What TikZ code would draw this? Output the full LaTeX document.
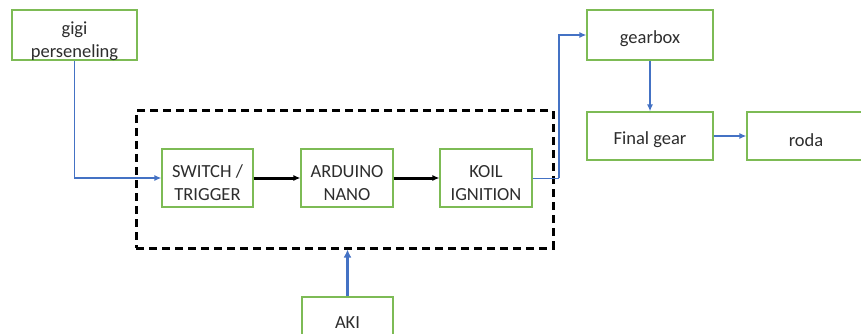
\documentclass[tikz,border=0pt]{standalone}
\usepackage{fontspec}
\setmainfont{Carlito}
\usetikzlibrary{arrows.meta}
\definecolor{boxgreen}{RGB}{125,187,85}
\definecolor{lineblue}{RGB}{68,114,196}
\definecolor{txtgray}{RGB}{45,45,45}
\tikzset{
  blk/.style={draw=boxgreen, line width=1.2pt, fill=white, minimum width=#1, inner sep=0pt},
  blk/.default=91pt,
  txt/.style={font=\fontsize{18.5}{23}\selectfont, text=txtgray, align=center, inner sep=0pt},
  bluearr/.style={draw=lineblue, line width=1.6pt, -{Latex[length=7pt,width=6pt]}},
  blackarr/.style={draw=black, line width=3pt, -{Latex[length=7pt,width=6pt]}},
  ctrlbox/.style={draw=black, line width=3pt, dash pattern=on 8pt off 5pt, minimum width=417pt, minimum height=137pt, inner sep=0pt}
}
\begin{document}
\begin{tikzpicture}[x=1pt,y=-1pt]
\useasboundingbox (0,0) rectangle (861,334);
\clip (0,0) rectangle (861,334);
\node[ctrlbox] (ctrl) at (344.5,179.5) {};
\node[blk=125pt, minimum height=50pt, label={[txt, yshift=-6pt]center:gigi\\perseneling}] (gigi) at (74.5,35) {};
\node[blk, minimum height=58pt, label={[txt, yshift=-5pt]center:SWITCH /\\TRIGGER}] (sw) at (207.5,178) {};
\node[blk=92pt, minimum height=58pt, label={[txt, yshift=-5pt]center:ARDUINO\\NANO}] (ard) at (347,178) {};
\node[blk=92pt, minimum height=58pt, label={[txt, yshift=-5pt]center:KOIL\\IGNITION}] (koil) at (486,178) {};
\node[blk=126pt, minimum height=50pt, label={[txt, yshift=-4pt]center:gearbox}] (gear) at (650,35) {};
\node[blk=126pt, minimum height=48pt, label={[txt, yshift=-4pt]center:Final gear}] (final) at (650,136) {};
\node[blk=122pt, minimum height=48pt] (roda) at (808,136) {};
\node[txt] (rodatxt) at (806,140) {roda};
\node[blk, minimum height=44pt] (aki) at (347.5,319) {};
\node[txt] (akitxt) at (347.5,323) {AKI};
\coordinate (k1) at (559,178);
\coordinate (k2) at (559,35);
\draw[bluearr] (gigi.south) |- (sw.west);
\draw[blackarr] (sw.east) -- (ard.west);
\draw[blackarr] (ard.east) -- (koil.west);
\draw[draw=lineblue, line width=1pt] (koil.east) -- (k1);
\draw[bluearr] (k1) -- (k2) -- (gear.west);
\draw[bluearr] (gear.south) -- (final.north);
\draw[bluearr] (final.east) -- (roda.west);
\draw[draw=lineblue, line width=3pt, -{Latex[length=8pt,width=8pt]}] (aki.north) -- (aki.north |- ctrl.south);
\end{tikzpicture}
\end{document}
